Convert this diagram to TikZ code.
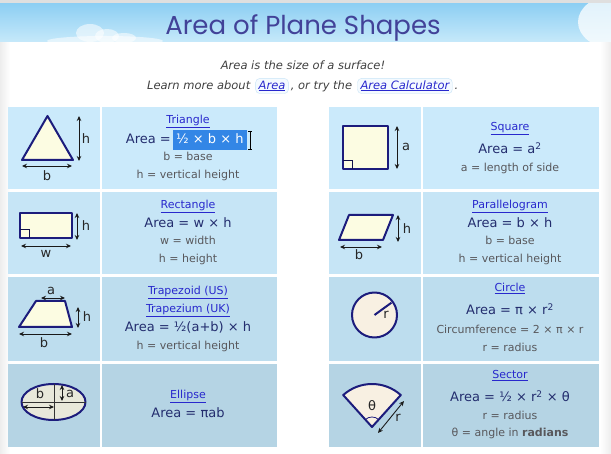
\documentclass[tikz,border=0pt]{standalone}
\usepackage{fontspec}
\setmainfont{DejaVu Sans}
\newfontfamily\titlefont{Poppins}
\usetikzlibrary{arrows.meta,positioning}
\definecolor{navy}{RGB}{28,28,124}
\definecolor{cream}{RGB}{252,252,226}
\definecolor{beige}{RGB}{248,240,226}
\definecolor{ellfill}{RGB}{232,232,218}
\definecolor{linkblue}{RGB}{40,40,205}
\definecolor{formula}{RGB}{35,45,110}
\definecolor{subgray}{RGB}{88,88,92}
\definecolor{selblue}{RGB}{51,134,230}
\definecolor{rowA}{RGB}{203,234,251}
\definecolor{rowB}{RGB}{198,229,246}
\definecolor{rowC}{RGB}{189,221,238}
\definecolor{rowD}{RGB}{181,212,228}
\definecolor{skytop}{RGB}{142,207,243}
\definecolor{skybot}{RGB}{198,233,250}
\definecolor{titlecol}{RGB}{66,66,152}
\definecolor{boxline}{RGB}{200,228,246}
\definecolor{boxfill}{RGB}{244,250,255}

\begin{document}
\begin{tikzpicture}[x=1pt, y=-1pt, >={Stealth[length=5pt,width=4.5pt]},
    outline/.style={draw=navy, line width=2pt, line join=round},
    dim/.style={<->, line width=0.9pt, black!90},
    lbl/.style={font=\fontsize{13}{15}\selectfont, text=black!85, inner sep=0pt},
    linktxt/.style={font=\fontsize{11}{13}\selectfont, text=linkblue, inner sep=0pt, text height=8.5pt, text depth=2.5pt},
    areatxt/.style={font=\fontsize{13}{15}\selectfont, text=formula, inner sep=0pt, text height=9.8pt, text depth=2.9pt},
    subtxt/.style={font=\fontsize{11}{13}\selectfont, text=subgray, inner sep=0pt, text height=8.3pt, text depth=2.4pt},
    selbox/.style={areatxt, fill=selblue, text=white, inner xsep=3pt, inner ysep=3.5pt},
    subline/.style={font=\itshape\fontsize{11.5}{13}\selectfont, text=black!75, inner sep=0pt, text height=8.6pt, text depth=2.5pt},
    linkbox/.style={subline, text=linkblue, draw=boxline, fill=boxfill, rounded corners=4pt, inner xsep=3pt, inner ysep=2pt}]
    \useasboundingbox (0,0) rectangle (611,454);

    % Page background with soft edges
    \fill[white] (0,0) rectangle (611,454);
    \shade[left color=gray!14, right color=white] (0,43) rectangle (10,454);
    \shade[left color=white, right color=gray!14] (600,43) rectangle (611,454);

    % Sky banner
    \fill[gray!25] (0,0) rectangle (611,4);
    \shade[top color=skytop, bottom color=skybot] (0,4) rectangle (611,42);
    \begin{scope}
        \clip (0,4) rectangle (611,42);
        \fill[white, opacity=0.55] (105,41) ellipse[x radius=58, y radius=5];
        \fill[white, opacity=0.55] (90,33) ellipse[x radius=14, y radius=9];
        \fill[white, opacity=0.55] (107,36) ellipse[x radius=12, y radius=7];
        \fill[white, opacity=0.55] (124,38) ellipse[x radius=12, y radius=5];
        \fill[white, opacity=0.75] (612,22) ellipse[x radius=34, y radius=26];
    \end{scope}
    \node[font=\titlefont\fontsize{26}{30}\selectfont, text=titlecol, inner sep=0pt, anchor=base] (title) at (303,35) {Area of Plane Shapes};

    % Introduction
    \node[subline] (intro) at (303,66) {Area is the size of a surface!};
    \node[subline, anchor=west] (learn) at (147,86) {Learn more about};
    \node[linkbox, right=5pt of learn] (arealink) {\underline{Area}};
    \node[subline, right=2pt of arealink] (ortry) {, or try the};
    \node[linkbox, right=5pt of ortry] (calclink) {\underline{Area Calculator}};
    \node[subline, right=2pt of calclink] (stop) {.};

    % Table cells
    \fill[rowA] (8,107) rectangle (277,189);
    \fill[rowB] (8,192) rectangle (277,274);
    \fill[rowC] (8,277) rectangle (277,361);
    \fill[rowD] (8,364) rectangle (277,447);
    \fill[rowA] (329,107) rectangle (599,189);
    \fill[rowB] (329,192) rectangle (599,274);
    \fill[rowC] (329,277) rectangle (599,361);
    \fill[rowD] (329,364) rectangle (599,447);
    \draw[white, line width=2pt] (101,107) -- (101,447);
    \draw[white, line width=2pt] (422,107) -- (422,447);

    % Triangle
    \draw[outline, fill=cream] (22,160) -- (47.5,116) -- (73,160) -- cycle;
    \draw[dim] (79,116) -- (79,161);
    \node[lbl] (tri-h) at (86,139) {h};
    \draw[dim] (22,166) -- (72,166);
    \node[lbl] (tri-b) at (47,176) {b};
    \node[linktxt] (tri-name) at (188,121) {\underline{Triangle}};
    \node[areatxt, anchor=east] (tri-area) at (171,140) {Area =};
    \node[selbox, anchor=west] (tri-sel) at (173,140) {½ × b × h};
    \draw[black, line width=0.6pt] (250,131) -- (250,149) (248,131) -- (252,131) (248,149) -- (252,149);
    \node[subtxt] (tri-base) at (188,158) {b = base};
    \node[subtxt] (tri-height) at (188,176) {h = vertical height};

    % Square
    \draw[outline, fill=cream] (343,126) rectangle (388,169);
    \draw[navy!60!black, line width=0.7pt] (343,160) -- (352,160) -- (352,169);
    \draw[dim] (397,126) -- (397,169);
    \node[lbl] (sq-a) at (406,147) {a};
    \node[linktxt] (sq-name) at (510,128) {\underline{Square}};
    \node[areatxt] (sq-area) at (510,150) {Area = a\textsuperscript{2}};
    \node[subtxt] (sq-side) at (510,169) {a = length of side};

    % Rectangle
    \draw[outline, fill=cream] (20,213) rectangle (72,238);
    \draw[navy!60!black, line width=0.7pt] (20,229) -- (29,229) -- (29,238);
    \draw[dim] (77,213) -- (77,240);
    \node[lbl] (rect-h) at (86,226) {h};
    \draw[dim] (21,246) -- (71,246);
    \node[lbl] (rect-w) at (46,254) {w};
    \node[linktxt] (rect-name) at (188,206) {\underline{Rectangle}};
    \node[areatxt] (rect-area) at (188,224) {Area = w × h};
    \node[subtxt] (rect-width) at (188,242) {w = width};
    \node[subtxt] (rect-height) at (188,260) {h = height};

    % Parallelogram
    \draw[outline, fill=cream] (339,240) -- (349,215) -- (393,215) -- (383,240) -- cycle;
    \draw[dim] (398,215) -- (398,242);
    \node[lbl] (par-h) at (407,229) {h};
    \draw[dim] (340,247) -- (382,247);
    \node[lbl] (par-b) at (359,255) {b};
    \node[linktxt] (par-name) at (510,206) {\underline{Parallelogram}};
    \node[areatxt] (par-area) at (510,224) {Area = b × h};
    \node[subtxt] (par-base) at (510,242) {b = base};
    \node[subtxt] (par-height) at (510,260) {h = vertical height};

    % Trapezoid
    \draw[outline, fill=cream] (19,327) -- (36,301) -- (65,301) -- (72,327) -- cycle;
    \draw[dim] (41,298) -- (65,298);
    \node[lbl] (trap-a) at (51,291) {a};
    \draw[dim] (78,307) -- (78,328);
    \node[lbl] (trap-h) at (87,317) {h};
    \draw[dim] (19,334) -- (72,334);
    \node[lbl] (trap-b) at (44,343) {b};
    \node[linktxt] (trap-us) at (188,292) {\underline{Trapezoid (US)}};
    \node[linktxt] (trap-uk) at (188,310) {\underline{Trapezium (UK)}};
    \node[areatxt] (trap-area) at (188,328) {Area = ½(a+b) × h};
    \node[subtxt] (trap-height) at (188,347) {h = vertical height};

    % Circle
    \draw[outline, fill=beige] (374.5,315) circle[radius=22.5];
    \draw[navy, line width=2pt] (374.5,315) -- ++(-36:21);
    \node[lbl] (circ-r) at (386,315) {r};
    \node[linktxt] (circ-name) at (510,289) {\underline{Circle}};
    \node[areatxt] (circ-area) at (510,311) {Area = π × r\textsuperscript{2}};
    \node[subtxt] (circ-circum) at (510,331) {Circumference = 2 × π × r};
    \node[subtxt] (circ-radius) at (510,349) {r = radius};

    % Ellipse
    \draw[outline, fill=ellfill] (53.5,402) ellipse[x radius=32, y radius=18];
    \draw[black!80, line width=0.6pt] (54,384) -- (54,420) (21.5,402) -- (85.5,402);
    \draw[dim] (62,385) -- (62,401);
    \node[lbl] (ell-a) at (70,394) {a};
    \draw[dim] (23,407) -- (54,407);
    \node[lbl] (ell-b) at (40,394) {b};
    \node[linktxt] (ell-name) at (188,396) {\underline{Ellipse}};
    \node[areatxt] (ell-area) at (188,414) {Area = πab};

    % Sector
    \draw[outline, fill=beige] (372,427) -- ++(-132:43) arc[start angle=-132, end angle=-48, radius=43] -- cycle;
    \draw[navy, line width=0.8pt] (372,427) ++(-132:10) arc[start angle=-132, end angle=-48, radius=10];
    \node[lbl] (sec-theta) at (372,406) {θ};
    \draw[dim] (378,433) -- (404,401);
    \node[lbl] (sec-r) at (398,418) {r};
    \node[linktxt] (sec-name) at (510,376) {\underline{Sector}};
    \node[areatxt] (sec-area) at (510,398) {Area = ½ × r\textsuperscript{2} × θ};
    \node[subtxt] (sec-radius) at (510,417) {r = radius};
    \node[subtxt] (sec-angle) at (510,434) {θ = angle in \textbf{radians}};
\end{tikzpicture}
\end{document}
